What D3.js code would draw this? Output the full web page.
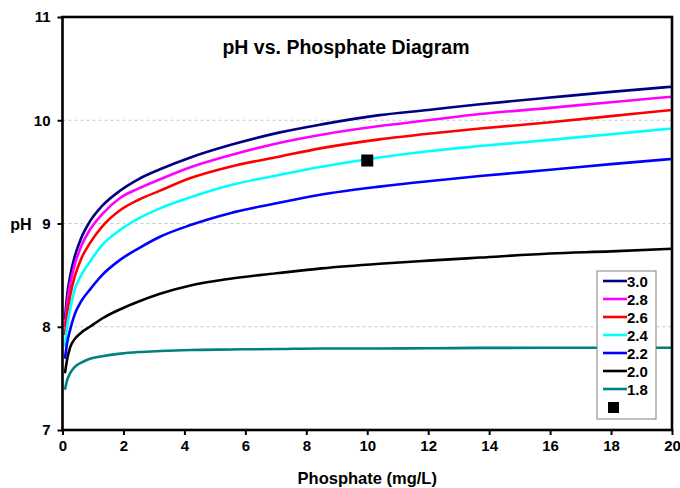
<!DOCTYPE html>
<html><head><meta charset="utf-8">
<script src="https://cdn.jsdelivr.net/npm/d3@7/dist/d3.min.js"></script>
<style>body{margin:0;background:#fff}svg{display:block;font-family:"Liberation Sans",Arial,sans-serif;font-weight:bold}</style>
</head><body><svg id="c" width="680" height="488"></svg>
<script>
const phosphate = [0.08, 0.15, 0.25, 0.4, 0.6, 0.9, 1.3, 1.9, 2.5, 3.2, 4.2, 5.5, 7.1, 8.5, 10.4, 12, 13.7, 16, 18, 20];
const ph30 = [8.07, 8.30, 8.49, 8.68, 8.85, 9.02, 9.17, 9.32, 9.43, 9.525, 9.64, 9.76, 9.88, 9.96, 10.05, 10.10, 10.155, 10.22, 10.275, 10.325];
const ph28 = [8.00, 8.22, 8.41, 8.60, 8.77, 8.94, 9.09, 9.25, 9.34, 9.428, 9.544, 9.66, 9.78, 9.86, 9.944, 10.00, 10.06, 10.12, 10.175, 10.228];
const ph26 = [7.92, 8.12, 8.30, 8.485, 8.65, 8.81, 8.97, 9.13, 9.23, 9.318, 9.44, 9.55, 9.647, 9.73, 9.815, 9.87, 9.92, 9.98, 10.04, 10.10];
const ph24 = [7.81, 8.00, 8.17, 8.36, 8.49, 8.63, 8.79, 8.94, 9.05, 9.147, 9.254, 9.37, 9.47, 9.55, 9.64, 9.70, 9.75, 9.81, 9.865, 9.92];
const ph22 = [7.69, 7.84, 7.97, 8.12, 8.24, 8.36, 8.50, 8.65, 8.76, 8.872, 8.985, 9.10, 9.20, 9.28, 9.357, 9.41, 9.46, 9.52, 9.575, 9.625];
const ph20 = [7.55, 7.68, 7.80, 7.88, 7.94, 8.00, 8.08, 8.17, 8.245, 8.32, 8.40, 8.465, 8.52, 8.565, 8.61, 8.64, 8.67, 8.71, 8.73, 8.755];
const ph18 = [7.39, 7.48, 7.55, 7.61, 7.65, 7.69, 7.715, 7.74, 7.755, 7.765, 7.775, 7.78, 7.785, 7.79, 7.79, 7.792, 7.795, 7.797, 7.797, 7.797];
const seriesNames = ["3.0", "2.8", "2.6", "2.4", "2.2", "2.0", "1.8"];
const seriesValues = [ph30, ph28, ph26, ph24, ph22, ph20, ph18];
const seriesColors = ["#000080", "#ff00ff", "#ff0000", "#00ffff", "#0000ff", "#000000", "#008080"];
const measured = [{x: 10, y: 9.61}];
const xTicks = [0, 2, 4, 6, 8, 10, 12, 14, 16, 18, 20];
const yTicks = [7, 8, 9, 10, 11];

const svg = d3.select("#c");
const m = {l: 62.5, r: 8, t: 17, b: 58};
const W = 680, H = 488;
const x = d3.scaleLinear().domain([0, 20]).range([m.l, W - m.r]);
const y = d3.scaleLinear().domain([7, 11]).range([H - m.b, m.t]);

// gridlines
svg.append("g").selectAll("line").data([8, 9, 10]).join("line")
  .attr("x1", x(0)).attr("x2", x(20)).attr("y1", d => y(d)).attr("y2", d => y(d))
  .attr("stroke", "#c8c8c8").attr("stroke-width", 1).attr("stroke-dasharray", "3,3");

// curves
const line = d3.line().x(d => x(d[0])).y(d => y(d[1])).curve(d3.curveMonotoneX);
seriesValues.forEach((vals, i) => {
  svg.append("path").datum(phosphate.map((p, j) => [p, vals[j]]))
    .attr("d", line).attr("fill", "none").attr("stroke", seriesColors[i])
    .attr("stroke-width", 2.6).attr("stroke-linejoin", "round");
});

// measured point
svg.selectAll("rect.pt").data(measured).join("rect").attr("class", "pt")
  .attr("x", d => x(d.x) - 6).attr("y", d => y(d.y) - 6).attr("width", 12).attr("height", 12)
  .attr("fill", "#000");

// axes
const xAxis = d3.axisBottom(x).tickValues(xTicks).tickSize(5).tickPadding(5).tickFormat(d3.format("d"));
const yAxis = d3.axisLeft(y).tickValues(yTicks).tickSize(5).tickPadding(7).tickFormat(d3.format("d"));
const gx = svg.append("g").attr("transform", `translate(0,${y(7)})`).call(xAxis);
const gy = svg.append("g").attr("transform", `translate(${x(0)},0)`).call(yAxis);
[gx, gy].forEach(g => {
  g.select(".domain").remove();
  g.selectAll(".tick line").attr("stroke", "#000").attr("stroke-width", 2);
  g.selectAll(".tick text").attr("fill", "#000").style("font-size", "15px").style("font-weight", "bold").style("font-family", "'Liberation Sans',Arial,sans-serif");
});
// frame
svg.append("rect").attr("x", x(0)).attr("y", y(11)).attr("width", x(20) - x(0)).attr("height", y(7) - y(11))
  .attr("fill", "none").attr("stroke", "#000").attr("stroke-width", 2.6);

// title and labels
svg.append("text").attr("x", 346).attr("y", 54).attr("text-anchor", "middle").style("font-size", "19.5px").text("pH vs. Phosphate Diagram");
svg.append("text").attr("x", (x(0) + x(20)) / 2).attr("y", 484).attr("text-anchor", "middle").style("font-size", "16.5px").text("Phosphate (mg/L)");
svg.append("text").attr("x", 21).attr("y", 230).attr("text-anchor", "middle").style("font-size", "16px").text("pH");

// legend
const lg = svg.append("g");
lg.append("rect").attr("x", 597).attr("y", 271).attr("width", 59).attr("height", 148)
  .attr("fill", "#fff").attr("stroke", "#808080").attr("stroke-width", 1);
seriesNames.forEach((n, i) => {
  const yy = 281 + i * 18;
  lg.append("line").attr("x1", 603).attr("x2", 627).attr("y1", yy).attr("y2", yy)
    .attr("stroke", seriesColors[i]).attr("stroke-width", 2.6);
  lg.append("text").attr("x", 627).attr("y", yy + 5.5).style("font-size", "15px").text(n);
});
lg.append("rect").attr("x", 608).attr("y", 402).attr("width", 11).attr("height", 11).attr("fill", "#000");
</script></body></html>
